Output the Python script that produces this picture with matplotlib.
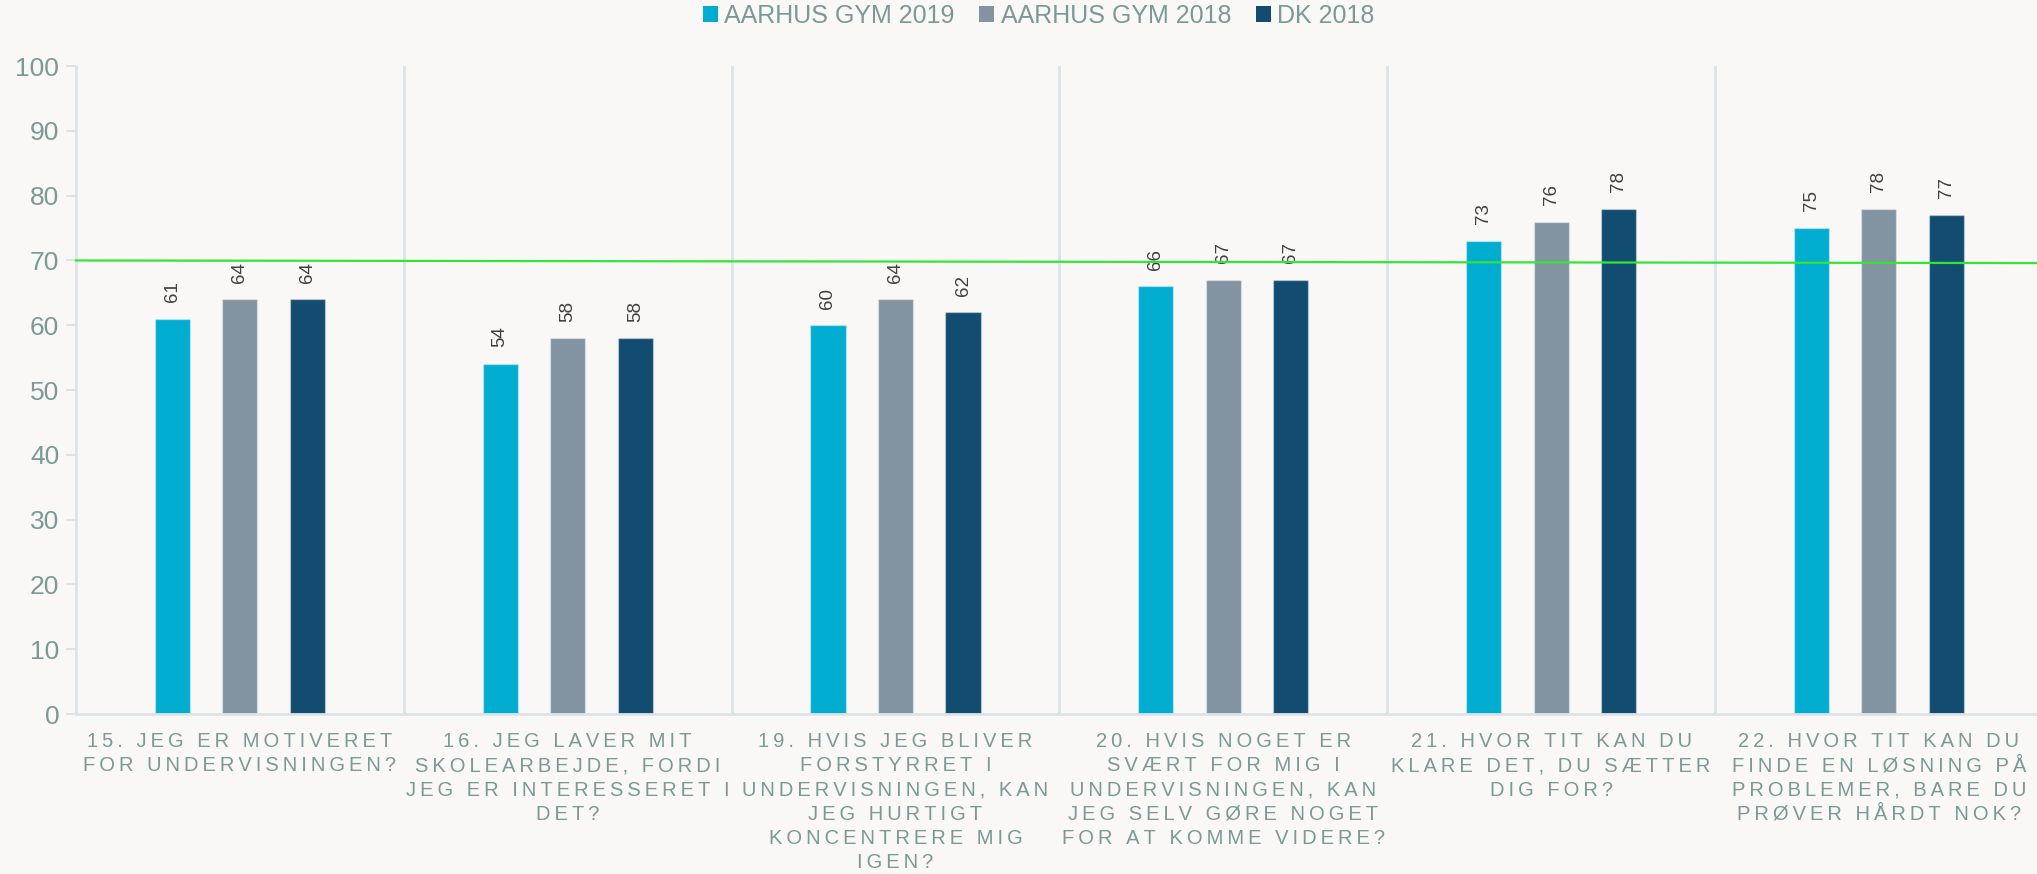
import matplotlib
matplotlib.use("Agg")
import matplotlib.pyplot as plt
from matplotlib.patches import Patch
import numpy as np

plt.rcParams['font.family'] = ['Liberation Sans', 'DejaVu Sans']

questions = [
    "15. JEG ER MOTIVERET\nFOR UNDERVISNINGEN?",
    "16. JEG LAVER MIT\nSKOLEARBEJDE, FORDI\nJEG ER INTERESSERET I\nDET?",
    "19. HVIS JEG BLIVER\nFORSTYRRET I\nUNDERVISNINGEN, KAN\nJEG HURTIGT\nKONCENTRERE MIG\nIGEN?",
    "20. HVIS NOGET ER\nSVÆRT FOR MIG I\nUNDERVISNINGEN, KAN\nJEG SELV GØRE NOGET\nFOR AT KOMME VIDERE?",
    "21. HVOR TIT KAN DU\nKLARE DET, DU SÆTTER\nDIG FOR?",
    "22. HVOR TIT KAN DU\nFINDE EN LØSNING PÅ\nPROBLEMER, BARE DU\nPRØVER HÅRDT NOK?",
]
series_names = ["AARHUS GYM 2019", "AARHUS GYM 2018", "DK 2018"]
aarhus_2019 = [61, 54, 60, 66, 73, 75]
aarhus_2018 = [64, 58, 64, 67, 76, 78]
dk_2018 = [64, 58, 62, 67, 78, 77]
ref_line = [70.0, 69.6]   # green target line, start / end

colors = ['#00ACD0', '#8293A1', '#124D71']
txt_col = '#7A9A95'
bg = '#F9F8F6'
grid_col = '#DDE3E6'


def spaced(s):
    # fake letter spacing with thin spaces
    return "\n".join("\u2009".join(line) for line in s.split("\n"))


fig = plt.figure(figsize=(20.37, 8.74), dpi=100, facecolor=bg)
ax = fig.add_axes([76 / 2037, 0.183, 1 - 76 / 2037, 0.7414])
ax.set_facecolor(bg)

x = np.arange(len(questions))
w = 0.107
step = 0.206
for i, (vals, c) in enumerate(zip([aarhus_2019, aarhus_2018, dk_2018], colors)):
    bars = ax.bar(x + (i - 1) * step, vals, width=w, color=c,
                  edgecolor=(1, 1, 1, 0.35), linewidth=1, zorder=2)
    for b, v in zip(bars, vals):
        ax.annotate(str(v), (b.get_x() + b.get_width() / 2, v),
                    xytext=(0, 12), textcoords='offset points',
                    rotation=90, ha='center', va='bottom',
                    fontsize=13.5, color='#404040')

# separators between groups
for s in x[:-1] + 0.5:
    ax.axvline(s, color=grid_col, lw=2, zorder=1)

xlim = (-0.5, -0.5 + (2037 - 76) / 327.8)
ax.set_xlim(*xlim)
ax.set_ylim(0, 100)
ax.plot(xlim, ref_line, color='#33E633', lw=1.6, zorder=3, clip_on=False)

ax.set_yticks(range(0, 101, 10))
ax.tick_params(axis='y', colors=grid_col, length=7, width=1.5, pad=5,
               labelsize=19, labelcolor=txt_col)
ax.set_xticks(x)
ax.set_xticklabels([spaced(q) for q in questions], fontsize=14.5,
                   color=txt_col, linespacing=1.35)
ax.tick_params(axis='x', length=0, pad=13)

for sp in ['top', 'right']:
    ax.spines[sp].set_visible(False)
for sp in ['left', 'bottom']:
    ax.spines[sp].set_color(grid_col)
    ax.spines[sp].set_linewidth(2)

handles = [Patch(facecolor=c, label=n) for c, n in zip(colors, series_names)]
fig.legend(handles=handles, loc='center', bbox_to_anchor=(0.51, 0.982),
           ncol=3, frameon=False, fontsize=18, labelcolor=txt_col,
           handlelength=0.6, handleheight=0.6, handletextpad=0.25,
           columnspacing=1.0)

fig.savefig('out.png', dpi=100, facecolor=bg)
